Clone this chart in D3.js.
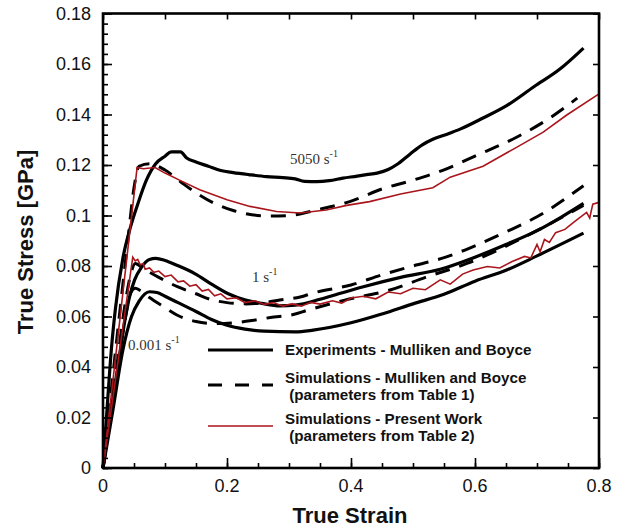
<!DOCTYPE html>
<html>
<head>
<meta charset="utf-8">
<script src="https://cdn.jsdelivr.net/npm/d3@7"></script>
<style>
  body { margin: 0; background: #fff; }
  svg { display: block; }
</style>
</head>
<body>
<div id="chart"></div>
<script>
(function () {

    // curves: [true strain, true stress (GPa)]
    var exp5050 = [[0,0],[0.007,0.025],[0.0134,0.0467],[0.02,0.063],[0.032,0.083],[0.045,0.096],[0.056,0.1045],[0.07,0.114],[0.085,0.1205],[0.1,0.1235],[0.11,0.1252],[0.125,0.1252],[0.135,0.1228],[0.15,0.1212],[0.17,0.1195],[0.19,0.1178],[0.21,0.117],[0.235,0.1162],[0.264,0.1154],[0.29,0.115],[0.31,0.1145],[0.325,0.1135],[0.345,0.1134],[0.365,0.1138],[0.387,0.1148],[0.41,0.1156],[0.425,0.1162],[0.442,0.1168],[0.46,0.1182],[0.474,0.1202],[0.495,0.1243],[0.515,0.128],[0.532,0.1302],[0.555,0.1322],[0.576,0.1342],[0.613,0.1386],[0.651,0.1435],[0.695,0.151],[0.737,0.158],[0.775,0.1663]];
    var mb5050 = [[0,0],[0.02,0.046],[0.04,0.09],[0.05,0.111],[0.058,0.1195],[0.075,0.1205],[0.1,0.118],[0.127,0.113],[0.15,0.109],[0.178,0.105],[0.21,0.102],[0.24,0.1003],[0.264,0.0998],[0.3,0.1],[0.35,0.1025],[0.398,0.1055],[0.45,0.1105],[0.5,0.114],[0.549,0.118],[0.6,0.1235],[0.667,0.131],[0.72,0.1385],[0.765,0.1465]];
    var pw5050 = [[0,0],[0.055,0.119],[0.065,0.1185],[0.084,0.119],[0.1,0.1168],[0.125,0.1138],[0.156,0.1102],[0.2,0.1062],[0.237,0.1036],[0.28,0.1016],[0.318,0.101],[0.36,0.1022],[0.393,0.104],[0.43,0.1055],[0.48,0.1085],[0.532,0.111],[0.56,0.1152],[0.613,0.1195],[0.667,0.127],[0.71,0.133],[0.748,0.1398],[0.8,0.1482]];

    var exp1 = [[0,0],[0.01,0.018],[0.02,0.034],[0.028,0.0467],[0.035,0.058],[0.043,0.068],[0.051,0.0745],[0.062,0.0795],[0.075,0.0826],[0.085,0.083],[0.1,0.0822],[0.12,0.0802],[0.148,0.077],[0.175,0.0728],[0.202,0.069],[0.23,0.0665],[0.256,0.0652],[0.285,0.0642],[0.31,0.0645],[0.35,0.0668],[0.38,0.069],[0.42,0.0718],[0.48,0.0755],[0.544,0.0787],[0.6,0.0835],[0.65,0.0885],[0.7,0.094],[0.74,0.0995],[0.775,0.1048]];
    var mb1 = [[0,0],[0.02,0.036],[0.035,0.064],[0.045,0.077],[0.052,0.081],[0.065,0.079],[0.09,0.0755],[0.12,0.0718],[0.15,0.069],[0.173,0.0668],[0.2,0.0655],[0.23,0.065],[0.26,0.0655],[0.285,0.0665],[0.318,0.0677],[0.339,0.0693],[0.4,0.0725],[0.45,0.0765],[0.5,0.08],[0.554,0.0836],[0.6,0.088],[0.65,0.0935],[0.7,0.0995],[0.775,0.1118]];
    var pw1 = [[0,0],[0.048,0.0835],[0.052,0.082],[0.056,0.0826],[0.06,0.0805],[0.065,0.081],[0.068,0.0787],[0.075,0.0792],[0.082,0.0775],[0.09,0.078],[0.1,0.0758],[0.11,0.0764],[0.121,0.0737],[0.13,0.0741],[0.14,0.072],[0.15,0.0726],[0.16,0.0701],[0.17,0.0707],[0.18,0.0682],[0.19,0.069],[0.2,0.067],[0.215,0.0674],[0.229,0.0655],[0.245,0.0662],[0.26,0.0648],[0.275,0.0655],[0.29,0.0641],[0.305,0.065],[0.32,0.0641],[0.335,0.0656],[0.35,0.0649],[0.37,0.0662],[0.385,0.0653],[0.4,0.0673],[0.42,0.068],[0.44,0.067],[0.46,0.0697],[0.48,0.069],[0.5,0.0712],[0.52,0.0706],[0.544,0.0745],[0.56,0.0728],[0.58,0.0768],[0.597,0.0784],[0.62,0.0798],[0.64,0.0792],[0.66,0.0818],[0.68,0.0838],[0.69,0.0832],[0.7,0.0885],[0.705,0.0856],[0.712,0.0905],[0.72,0.0893],[0.73,0.0932],[0.745,0.0945],[0.76,0.0975],[0.78,0.1012],[0.785,0.099],[0.79,0.1045],[0.8,0.1052]];

    var exp001 = [[0,0],[0.016,0.023],[0.032,0.0467],[0.046,0.06],[0.058,0.066],[0.075,0.0698],[0.087,0.0695],[0.1,0.068],[0.121,0.0655],[0.15,0.062],[0.175,0.0588],[0.2,0.0565],[0.229,0.055],[0.26,0.0542],[0.31,0.0539],[0.339,0.0546],[0.4,0.0575],[0.45,0.061],[0.5,0.065],[0.55,0.0688],[0.6,0.074],[0.651,0.0784],[0.7,0.084],[0.775,0.093]];
    var mb001 = [[0,0],[0.02,0.034],[0.035,0.058],[0.045,0.0695],[0.052,0.0712],[0.06,0.0703],[0.075,0.0675],[0.097,0.064],[0.12,0.0605],[0.15,0.058],[0.18,0.0572],[0.21,0.0575],[0.24,0.0584],[0.27,0.0596],[0.307,0.0608],[0.33,0.0625],[0.39,0.0665],[0.463,0.0705],[0.52,0.0755],[0.587,0.081],[0.68,0.0915],[0.775,0.104]];

    var xTicks = [0, 0.2, 0.4, 0.6, 0.8],
        yTicks = [0, 0.02, 0.04, 0.06, 0.08, 0.1, 0.12, 0.14, 0.16, 0.18],
        yTickLabels = ["0", "0.02", "0.04", "0.06", "0.08", "0.1", "0.12", "0.14", "0.16", "0.18"];

    var legendItems = [
        {lines: ["Experiments - Mulliken and Boyce"], kind: "exp"},
        {lines: ["Simulations - Mulliken and Boyce", " (parameters from Table 1)"], kind: "mb"},
        {lines: ["Simulations - Present Work", " (parameters from Table 2)"], kind: "pw"}
    ];

    var width = 629, height = 530,
        left = 103, right = 599, top = 13.5, bottom = 468;

    var svg = d3.select("#chart").append("svg")
        .attr("width", width).attr("height", height);

    svg.append("rect").attr("width", width).attr("height", height).attr("fill", "#fff");

    var x = d3.scaleLinear().domain([0, 0.8]).range([left, right]),
        y = d3.scaleLinear().domain([0, 0.18]).range([bottom, top]);

    var red = "#a8161c";

    var smooth = d3.line().x(function (d) { return x(d[0]); }).y(function (d) { return y(d[1]); })
        .curve(d3.curveMonotoneX);
    var straight = d3.line().x(function (d) { return x(d[0]); }).y(function (d) { return y(d[1]); });

    var plot = svg.append("g");

    function drawSim(data) {
        plot.append("path").attr("d", smooth(data))
            .attr("fill", "none").attr("stroke", "#000").attr("stroke-width", 3)
            .attr("stroke-dasharray", "15,10");
    }
    function drawExp(data) {
        plot.append("path").attr("d", smooth(data))
            .attr("fill", "none").attr("stroke", "#000").attr("stroke-width", 3.2)
            .attr("stroke-linejoin", "round");
    }
    function drawPw(data) {
        plot.append("path").attr("d", straight(data))
            .attr("fill", "none").attr("stroke", red).attr("stroke-width", 1.6);
    }

    [mb5050, mb1, mb001].forEach(drawSim);
    [exp5050, exp1, exp001].forEach(drawExp);
    [pw5050, pw1].forEach(drawPw);

    // axes, ticks pointing inward
    var bottomAxis = d3.axisBottom(x).tickValues(d3.range(0, 0.8001, 0.05)).tickSize(-5).tickFormat("");
    var topAxis = d3.axisTop(x).tickValues(d3.range(0, 0.8001, 0.1)).tickSize(-6).tickFormat("");
    var leftMinor = d3.axisLeft(y).tickValues(d3.range(0, 0.1801, 0.004)).tickSize(-5).tickFormat("");
    var leftMajor = d3.axisLeft(y).tickValues(yTicks).tickSize(-9).tickFormat("");
    var rightAxis = d3.axisRight(y).tickValues(yTicks).tickSize(-6).tickFormat("");
    var bottomMajor = d3.axisBottom(x).tickValues(xTicks).tickSize(-10).tickFormat("");

    function styleAxis(g) {
        g.select(".domain").remove();
        g.selectAll("line").attr("stroke", "#000").attr("stroke-width", 1.6);
    }

    svg.append("g").attr("transform", "translate(0," + bottom + ")").call(bottomAxis).call(styleAxis);
    svg.append("g").attr("transform", "translate(0," + bottom + ")").call(bottomMajor).call(styleAxis);
    svg.append("g").attr("transform", "translate(0," + top + ")").call(topAxis).call(styleAxis);
    svg.append("g").attr("transform", "translate(" + left + ",0)").call(leftMinor).call(styleAxis);
    svg.append("g").attr("transform", "translate(" + left + ",0)").call(leftMajor).call(styleAxis);
    svg.append("g").attr("transform", "translate(" + right + ",0)").call(rightAxis).call(styleAxis);

    svg.append("rect")
        .attr("x", left).attr("y", top).attr("width", right - left).attr("height", bottom - top)
        .attr("fill", "none").attr("stroke", "#000").attr("stroke-width", 2.6);

    // tick labels
    svg.selectAll(".ylab").data(yTicks).enter().append("text")
        .attr("class", "ylab")
        .attr("x", left - 12).attr("y", function (d) { return y(d); })
        .attr("dy", "0.36em").attr("text-anchor", "end")
        .style("font", "18px Arial, 'Liberation Sans', sans-serif").attr("fill", "#111")
        .text(function (d, i) { return yTickLabels[i]; });

    svg.selectAll(".xlab").data(xTicks).enter().append("text")
        .attr("class", "xlab")
        .attr("x", function (d) { return x(d); }).attr("y", 492)
        .attr("text-anchor", "middle")
        .style("font", "18px Arial, 'Liberation Sans', sans-serif").attr("fill", "#111")
        .text(function (d) { return d === 0 ? "0" : d3.format(".1f")(d); });

    // axis titles
    svg.append("text")
        .attr("x", 350).attr("y", 523).attr("text-anchor", "middle")
        .style("font", "bold 22px Arial, 'Liberation Sans', sans-serif").attr("fill", "#111")
        .text("True Strain");

    svg.append("text")
        .attr("transform", "translate(33,242) rotate(-90)").attr("text-anchor", "middle")
        .style("font", "bold 22px Arial, 'Liberation Sans', sans-serif").attr("fill", "#111")
        .text("True Stress [GPa]");

    // rate labels
    function rateLabel(px, py, rate) {
        var t = svg.append("text").attr("x", px).attr("y", py)
            .style("font", "15px 'Times New Roman', 'Liberation Serif', serif").attr("fill", "#333");
        t.append("tspan").text(rate + " s");
        t.append("tspan").attr("dy", -7).style("font-size", "10px").text("-1");
    }
    rateLabel(290, 164, "5050");
    rateLabel(252, 282, "1");
    rateLabel(128, 350, "0.001");

    // legend
    var legendY = [350, 385, 426];
    var textY = [[350], [377.5, 395], [418.5, 436]];
    var lg = svg.append("g");
    legendItems.forEach(function (item, i) {
        var ln = lg.append("line")
            .attr("x1", 208).attr("x2", 273).attr("y1", legendY[i]).attr("y2", legendY[i]);
        if (item.kind === "exp") ln.attr("stroke", "#000").attr("stroke-width", 3);
        if (item.kind === "mb") ln.attr("stroke", "#000").attr("stroke-width", 3).attr("stroke-dasharray", "14,13");
        if (item.kind === "pw") ln.attr("stroke", red).attr("stroke-width", 1.6);
        item.lines.forEach(function (s, j) {
            lg.append("text")
                .attr("x", 285).attr("y", textY[i][j]).attr("dy", "0.36em")
                .attr("xml:space", "preserve")
                .style("white-space", "pre")
                .style("font", "bold 15.2px Arial, 'Liberation Sans', sans-serif").attr("fill", "#111")
                .text(s);
        });
    });

}());
</script>
</body>
</html>
